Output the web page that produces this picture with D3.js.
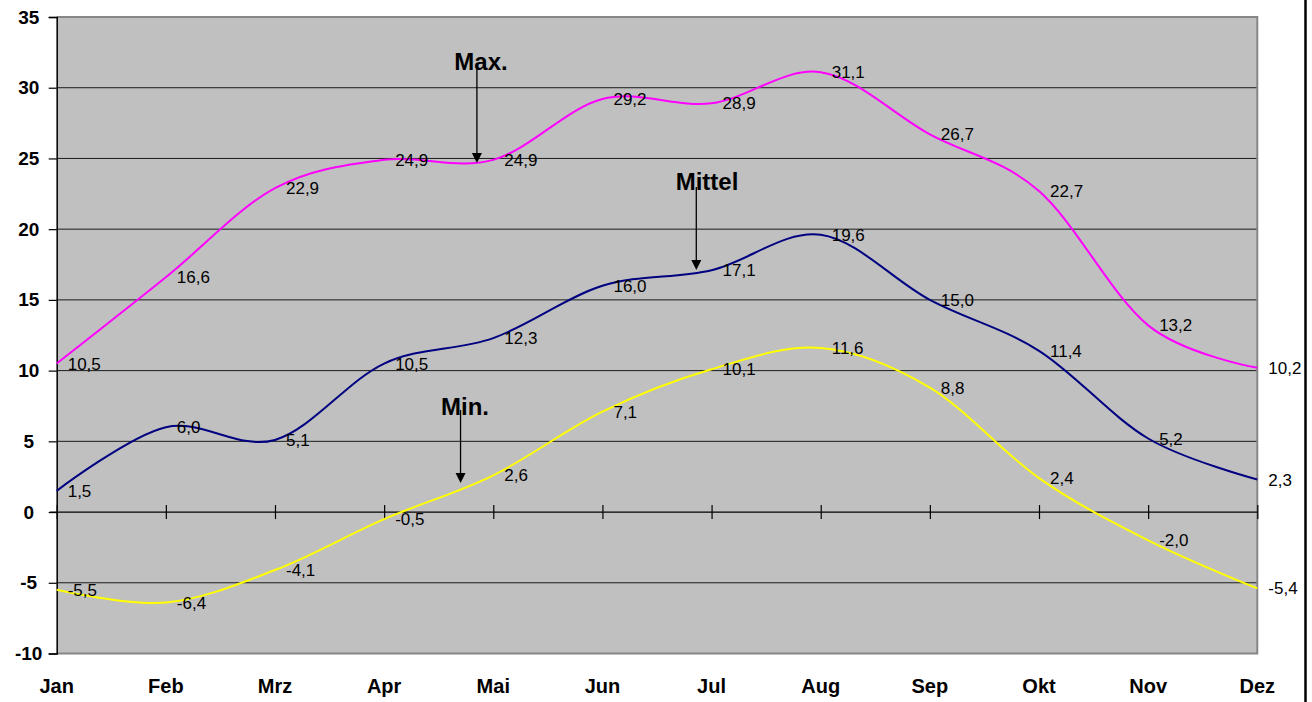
<!DOCTYPE html>
<html>
<head>
<meta charset="utf-8">
<script src="https://cdn.jsdelivr.net/npm/d3@7"></script>
<style>
  html, body { margin: 0; padding: 0; background: #fff; }
  svg { display: block; }
</style>
</head>
<body>
<svg id="chart" width="1312" height="702"></svg>
<script>
const months = ["Jan","Feb","Mrz","Apr","Mai","Jun","Jul","Aug","Sep","Okt","Nov","Dez"];
const maxValues = [10.5, 16.6, 22.9, 24.9, 24.9, 29.2, 28.9, 31.1, 26.7, 22.7, 13.2, 10.2];
const meanValues = [1.5, 6.0, 5.1, 10.5, 12.3, 16.0, 17.1, 19.6, 15.0, 11.4, 5.2, 2.3];
const minValues = [-5.5, -6.4, -4.1, -0.5, 2.6, 7.1, 10.1, 11.6, 8.8, 2.4, -2.0, -5.4];
const yTicks = [-10, -5, 0, 5, 10, 15, 20, 25, 30, 35];
const seriesNames = ["Max.", "Mittel", "Min."];

const series = [
  { name: seriesNames[0], values: maxValues, color: "#FF00FF", arrowMonth: 3.85, arrowFrom: 68, arrowTo: 163, textX: 481, textY: 70 },
  { name: seriesNames[1], values: meanValues, color: "#000080", arrowMonth: 5.86, arrowFrom: 187, arrowTo: 270, textX: 707, textY: 190 },
  { name: seriesNames[2], values: minValues, color: "#FFFF00", arrowMonth: 3.70, arrowFrom: 410, arrowTo: 483, textX: 465, textY: 415 }
];

const svg = d3.select("#chart");
const pLeft = 56.7, pRight = 1257.3, pTop = 17, pBottom = 653.5;

const x = d3.scalePoint().domain(months).range([pLeft, pRight]);
const y = d3.scaleLinear().domain([-10, 35]).range([pBottom, pTop]);
const xl = d3.scaleLinear().domain([0, 11]).range([pLeft, pRight]);

const font = "'Liberation Sans', Arial, sans-serif";

// plot background
svg.append("rect")
  .attr("x", pLeft).attr("y", pTop)
  .attr("width", pRight - pLeft).attr("height", pBottom - pTop)
  .attr("fill", "#C0C0C0");

// gridlines
svg.append("g").selectAll("line")
  .data(yTicks.filter(d => d !== -10 && d !== 35 && d !== 0))
  .join("line")
  .attr("x1", pLeft).attr("x2", pRight)
  .attr("y1", d => y(d)).attr("y2", d => y(d))
  .attr("stroke", "#1a1a1a").attr("stroke-width", 1);

// plot border (top, right, bottom)
svg.append("path")
  .attr("d", `M${pLeft},${pTop}H${pRight}V${pBottom}H${pLeft}`)
  .attr("fill", "none").attr("stroke", "#868686").attr("stroke-width", 2);

// y axis
const yAxis = d3.axisLeft(y).tickValues(yTicks).tickSize(8).tickPadding(0).tickFormat(d => String(d));
const yg = svg.append("g").attr("transform", `translate(${pLeft},0)`).call(yAxis);
yg.select(".domain").attr("stroke", "#000").attr("stroke-width", 1.5);
yg.selectAll(".tick line").attr("stroke", "#000").attr("stroke-width", 1.2);
yg.selectAll(".tick text")
  .attr("x", -28).attr("text-anchor", "middle")
  .style("font-family", font).style("font-weight", "bold").style("font-size", "19px").attr("fill", "#000");

// x axis at zero
const xAxis = d3.axisBottom(x).tickSize(7).tickFormat("");
const xg = svg.append("g").attr("transform", `translate(0,${y(0)})`).call(xAxis);
xg.select(".domain").attr("d", `M${pLeft - 7},0H${pRight}`).attr("stroke", "#000").attr("stroke-width", 1.2);
xg.selectAll(".tick line").attr("y1", -7).attr("y2", 7).attr("stroke", "#000").attr("stroke-width", 1.2);

// x labels at the bottom
svg.append("g").selectAll("text")
  .data(months).join("text")
  .attr("x", d => x(d)).attr("y", 693)
  .attr("text-anchor", "middle")
  .style("font-family", font).style("font-weight", "bold").style("font-size", "20px")
  .text(d => d);

// lines
const line = d3.line()
  .x((d, i) => x(months[i]))
  .y(d => y(d))
  .curve(d3.curveCardinal.tension(0));

series.forEach(s => {
  svg.append("path")
    .datum(s.values)
    .attr("d", line)
    .attr("fill", "none")
    .attr("stroke", s.color)
    .attr("stroke-width", 2);
});

// data labels
const fmt = v => v.toFixed(1).replace(".", ",");
series.forEach(s => {
  svg.append("g").selectAll("text")
    .data(s.values).join("text")
    .attr("x", (d, i) => x(months[i]) + 11)
    .attr("y", d => y(d) + 6)
    .style("font-family", font).style("font-size", "17px")
    .attr("fill", "#000")
    .text(d => fmt(d));
});

// annotation arrows
series.forEach(s => {
  const ax = xl(s.arrowMonth);
  svg.append("line")
    .attr("x1", ax).attr("x2", ax)
    .attr("y1", s.arrowFrom).attr("y2", s.arrowTo - 9)
    .attr("stroke", "#000").attr("stroke-width", 1.3);
  svg.append("path")
    .attr("d", `M${ax - 5},${s.arrowTo - 10}L${ax + 5},${s.arrowTo - 10}L${ax},${s.arrowTo}Z`)
    .attr("fill", "#000");
  svg.append("text")
    .attr("x", s.textX).attr("y", s.textY)
    .attr("text-anchor", "middle")
    .style("font-family", font).style("font-weight", "bold").style("font-size", "24px")
    .text(s.name);
});

// right outer border line
svg.append("line")
  .attr("x1", 1305.5).attr("x2", 1305.5).attr("y1", 0).attr("y2", 702)
  .attr("stroke", "#000").attr("stroke-width", 2.5);
</script>
</body>
</html>
